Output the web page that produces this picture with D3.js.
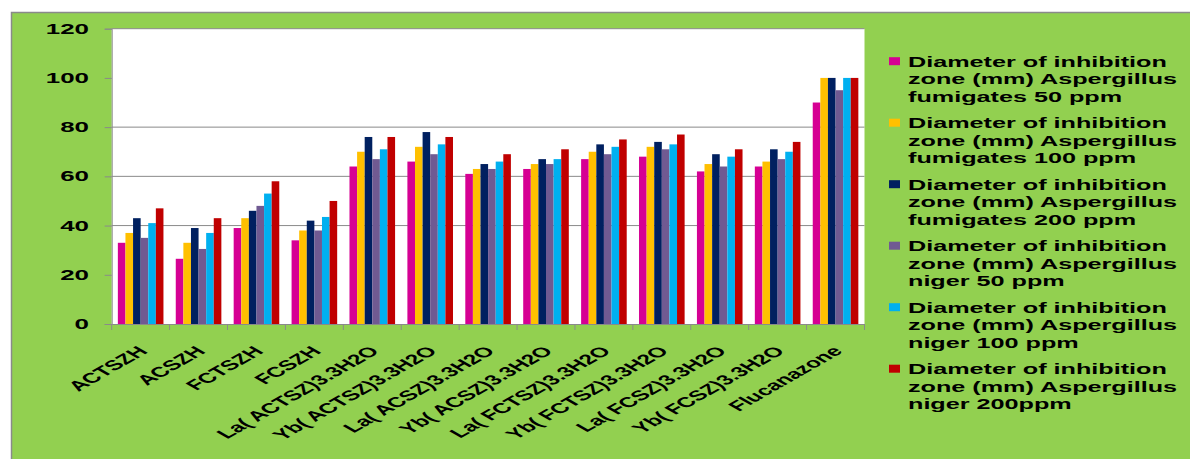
<!DOCTYPE html>
<html>
<head>
<meta charset="utf-8">
<script src="https://cdn.jsdelivr.net/npm/d3@7"></script>
<style>
  body { margin: 0; background: #fff; }
  text { font-family: "Liberation Sans", Arial, sans-serif; font-weight: bold; fill: #000; }
</style>
</head>
<body>
<svg id="chart" width="1190" height="459"></svg>
<script>
var categories = ["ACTSZH", "ACSZH", "FCTSZH", "FCSZH", "La( ACTSZ)3.3H2O", "Yb( ACTSZ)3.3H2O",
    "La( ACSZ)3.3H2O", "Yb( ACSZ)3.3H2O", "La( FCTSZ)3.3H2O", "Yb( FCTSZ)3.3H2O",
    "La( FCSZ)3.3H2O", "Yb( FCSZ)3.3H2O", "Flucanazone"];

var fumigates50  = [33, 26.5, 39, 34, 64, 66, 61, 63, 67, 68, 62, 64, 90];
var fumigates100 = [37, 33, 43, 38, 70, 72, 63, 65, 70, 72, 65, 66, 100];
var fumigates200 = [43, 39, 46, 42, 76, 78, 65, 67, 73, 74, 69, 71, 100];
var niger50      = [35, 30.5, 48, 38, 67, 69, 63, 65, 69, 71, 64, 67, 95];
var niger100     = [41, 37, 53, 43.5, 71, 73, 66, 67, 72, 73, 68, 70, 100];
var niger200     = [47, 43, 58, 50, 76, 76, 69, 71, 75, 77, 71, 74, 100];

var seriesNames = [
    ["Diameter of inhibition", "zone (mm) Aspergillus", "fumigates 50 ppm"],
    ["Diameter of inhibition", "zone (mm) Aspergillus", "fumigates 100 ppm"],
    ["Diameter of inhibition", "zone (mm) Aspergillus", "fumigates 200 ppm"],
    ["Diameter of inhibition", "zone (mm) Aspergillus", "niger 50 ppm"],
    ["Diameter of inhibition", "zone (mm) Aspergillus", "niger 100 ppm"],
    ["Diameter of inhibition", "zone (mm) Aspergillus", "niger 200ppm"]
];
var colors = ["#d60093", "#ffc000", "#002060", "#705a92", "#00b0f0", "#c00000"];

var yTicks = [0, 20, 40, 60, 80, 100, 120];
var gridTicks = [40, 60, 80];

var series = [fumigates50, fumigates100, fumigates200, niger50, niger100, niger200];

var svg = d3.select("#chart");
var stretch = 1.75; // the original picture is widened horizontally

// green chart area
svg.append("rect")
    .attr("x", 11.5).attr("y", 12.5)
    .attr("width", 1190).attr("height", 460)
    .attr("fill", "#92d050")
    .attr("stroke", "#8a8a8a").attr("stroke-width", 1.5);

var plotLeft = 111.7, plotRight = 864.5, plotTop = 28.7, plotBottom = 324;

var x0 = d3.scaleBand().domain(categories).range([plotLeft, plotRight]).padding(0);
var x1 = d3.scaleBand().domain(d3.range(series.length))
    .range([0, x0.bandwidth()]).paddingInner(0).paddingOuter(0.81);
var y = d3.scaleLinear().domain([0, 120]).range([plotBottom, plotTop]);

// plot area
svg.append("rect")
    .attr("x", plotLeft).attr("y", plotTop)
    .attr("width", plotRight - plotLeft).attr("height", plotBottom - plotTop)
    .attr("fill", "#fff");

svg.append("line")
    .attr("x1", plotLeft).attr("x2", plotRight)
    .attr("y1", plotTop).attr("y2", plotTop)
    .attr("stroke", "#8a8a8a");

// gridlines
svg.append("g").selectAll("line")
    .data(gridTicks)
    .enter().append("line")
    .attr("x1", plotLeft).attr("x2", plotRight)
    .attr("y1", function (d) { return y(d); })
    .attr("y2", function (d) { return y(d); })
    .attr("stroke", "#8a8a8a");

// bars
var groups = svg.append("g").selectAll("g")
    .data(categories)
    .enter().append("g")
    .attr("transform", function (d) { return "translate(" + x0(d) + ",0)"; });

groups.selectAll("rect")
    .data(function (d, i) { return series.map(function (s, k) { return { k: k, v: s[i] }; }); })
    .enter().append("rect")
    .attr("x", function (d) { return x1(d.k); })
    .attr("width", x1.bandwidth())
    .attr("y", function (d) { return y(d.v); })
    .attr("height", function (d) { return plotBottom - y(d.v); })
    .attr("fill", function (d) { return colors[d.k]; });

// Y axis
var yAxis = svg.append("g")
    .attr("transform", "translate(" + plotLeft + ",0)")
    .call(d3.axisLeft(y).tickValues(yTicks).tickSize(7).tickFormat(""));
yAxis.select(".domain").attr("stroke", "#8a8a8a");
yAxis.selectAll(".tick line").attr("stroke", "#8a8a8a");

svg.append("g").selectAll("text")
    .data(yTicks)
    .enter().append("text")
    .attr("transform", function (d) { return "translate(89," + (y(d) + 5) + ") scale(1.85,1)"; })
    .attr("text-anchor", "end")
    .attr("font-size", "14px")
    .text(function (d) { return d; });

// X axis
var xAxis = svg.append("g")
    .attr("transform", "translate(0," + plotBottom + ")")
    .call(d3.axisBottom(x0).tickSize(0).tickFormat(""));
xAxis.select(".domain").attr("stroke", "#8a8a8a");
xAxis.selectAll(".tick").remove();

var bounds = categories.map(function (c) { return x0(c); }).concat([plotRight]);
xAxis.selectAll(".bound")
    .data(bounds)
    .enter().append("line")
    .attr("class", "bound")
    .attr("x1", function (d) { return d; }).attr("x2", function (d) { return d; })
    .attr("y1", 0).attr("y2", 6)
    .attr("stroke", "#8a8a8a");

svg.append("g").selectAll("text")
    .data(categories)
    .enter().append("text")
    .attr("transform", function (d) {
        return "translate(" + (x0(d) + x0.bandwidth() / 2 + 8) + ",352) scale(" + stretch + ",1) rotate(-45)";
    })
    .attr("text-anchor", "end")
    .attr("font-size", "14px")
    .text(function (d) { return d; });

// Legend
var legend = svg.append("g").selectAll("g")
    .data(seriesNames)
    .enter().append("g")
    .attr("transform", function (d, i) { return "translate(0," + (66.7 + i * 61.5) + ")"; });

legend.append("rect")
    .attr("x", 889).attr("y", -9.5)
    .attr("width", 11).attr("height", 8)
    .attr("fill", function (d, i) { return colors[i]; });

legend.selectAll("text")
    .data(function (d) { return d; })
    .enter().append("text")
    .attr("transform", function (d, j) { return "translate(908," + (j * 17.5) + ") scale(1.68,1)"; })
    .attr("font-size", "15px")
    .text(function (d) { return d; });
</script>
</body>
</html>
